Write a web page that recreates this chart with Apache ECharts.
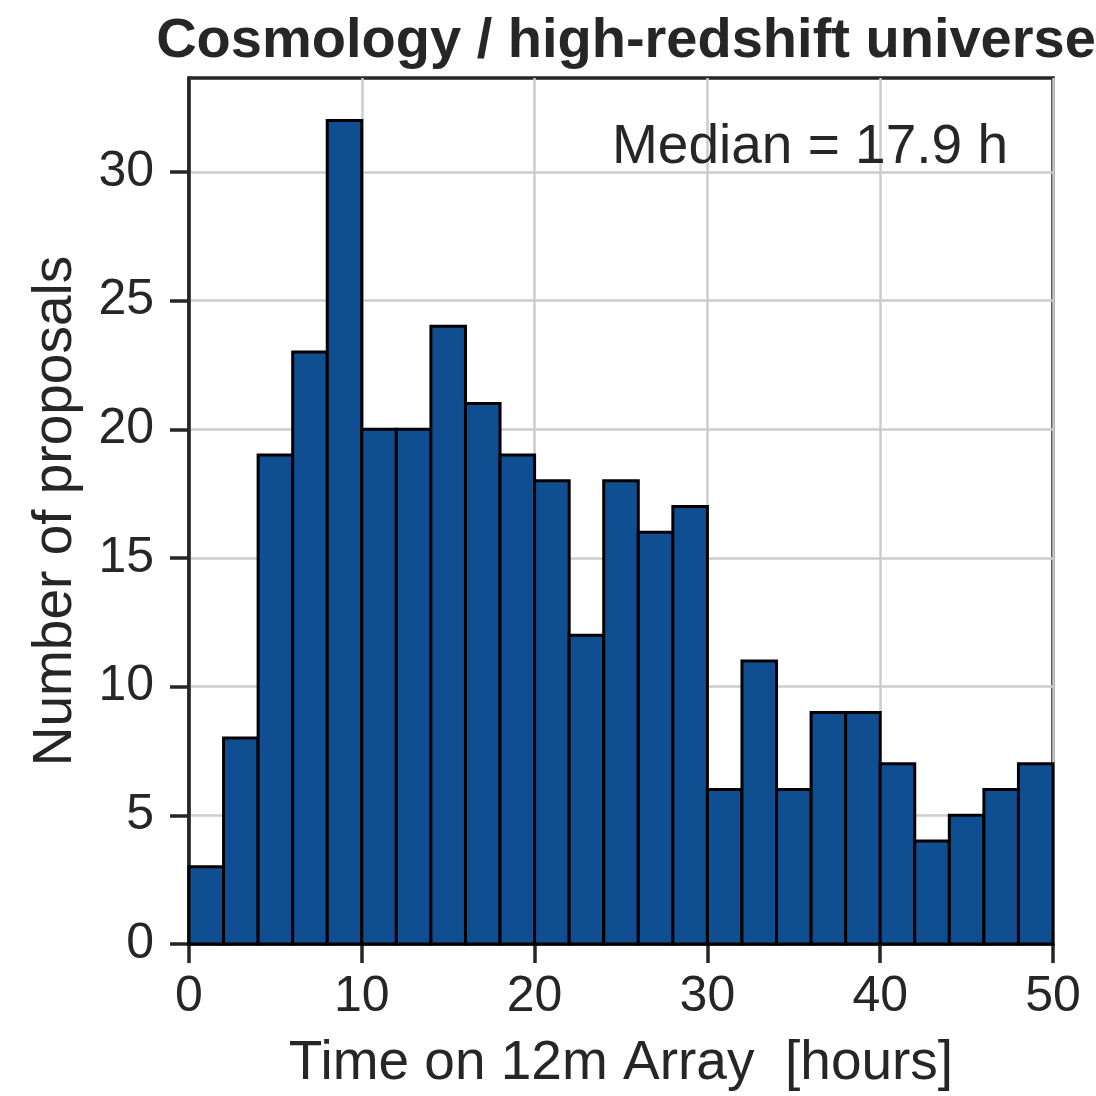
<!DOCTYPE html>
<html><head><meta charset="utf-8">
<script src="https://cdn.jsdelivr.net/npm/echarts@6/dist/echarts.min.js"></script>
<style>html,body{margin:0;padding:0;background:#fff}#c{width:1096px;height:1096px}</style>
</head><body><div id="c"></div>
<script>
const binEdgesStart = [0,2,4,6,8,10,12,14,16,18,20,22,24,26,28,30,32,34,36,38,40,42,44,46,48];
const binWidth = 2;
const counts = [3,8,19,23,32,20,20,24,21,19,18,12,18,16,17,6,11,6,9,9,7,4,5,6,7];
const xTicks = [0,10,20,30,40,50];
const yTicks = [0,5,10,15,20,25,30];
const titleText = 'Cosmology / high-redshift universe';
const medianText = 'Median = 17.9 h';
const xName = 'Time on 12m Array  [hours]';
const yName = 'Number of proposals';

const data = binEdgesStart.map((s,i)=>[s, s+binWidth, counts[i]]);
const chart = echarts.init(document.getElementById('c'), null, {renderer:'canvas'});
const FONT = '"Liberation Sans", Arial, sans-serif';
const TXT = '#262626';
chart.setOption({
  animation:false,
  backgroundColor:'#fff',
  title:{text:titleText, left:621, top:9, textAlign:'center',
    textStyle:{fontFamily:FONT, fontSize:56, fontWeight:'bold', color:TXT}},
  grid:{left:189, right:43, top:78, bottom:152, show:true, borderColor:TXT, borderWidth:3.5, backgroundColor:'transparent'},
  xAxis:{type:'value', min:0, max:50, interval:10,
    name:xName, nameLocation:'middle', nameGap:92,
    nameTextStyle:{fontFamily:FONT, fontSize:55, color:TXT},
    axisLine:{show:true, lineStyle:{color:TXT, width:3.5}},
    axisTick:{show:true, length:19, lineStyle:{color:TXT, width:3.5}},
    axisLabel:{fontFamily:FONT, fontSize:50, color:TXT, margin:28, customValues:xTicks},
    splitLine:{show:true, lineStyle:{color:'#cccccc', width:2.5}}},
  yAxis:{type:'value', min:0, max:33.65, interval:5,
    name:yName, nameLocation:'middle', nameGap:106, nameRotate:90,
    nameTextStyle:{fontFamily:FONT, fontSize:55, color:TXT},
    axisLine:{show:true, lineStyle:{color:TXT, width:3.5}},
    axisTick:{show:true, length:19, lineStyle:{color:TXT, width:3.5}, customValues:yTicks},
    axisLabel:{fontFamily:FONT, fontSize:50, color:TXT, margin:35, customValues:yTicks},
    splitLine:{show:true, lineStyle:{color:'#cccccc', width:2.5}}},
  graphic:[{type:'text', right:88, top:120, z:100,
    style:{text:medianText, fontFamily:FONT, fontSize:55, fill:TXT}}],
  series:[{type:'custom', data:data, z:3,
    renderItem:function(params, api){
      const p0 = api.coord([api.value(0), api.value(2)]);
      const p1 = api.coord([api.value(1), 0]);
      return {type:'rect', shape:{x:p0[0], y:p0[1], width:p1[0]-p0[0], height:p1[1]-p0[1]},
        style:{fill:'#104e92', stroke:'#000', lineWidth:3}};
    }}]
});
</script></body></html>
